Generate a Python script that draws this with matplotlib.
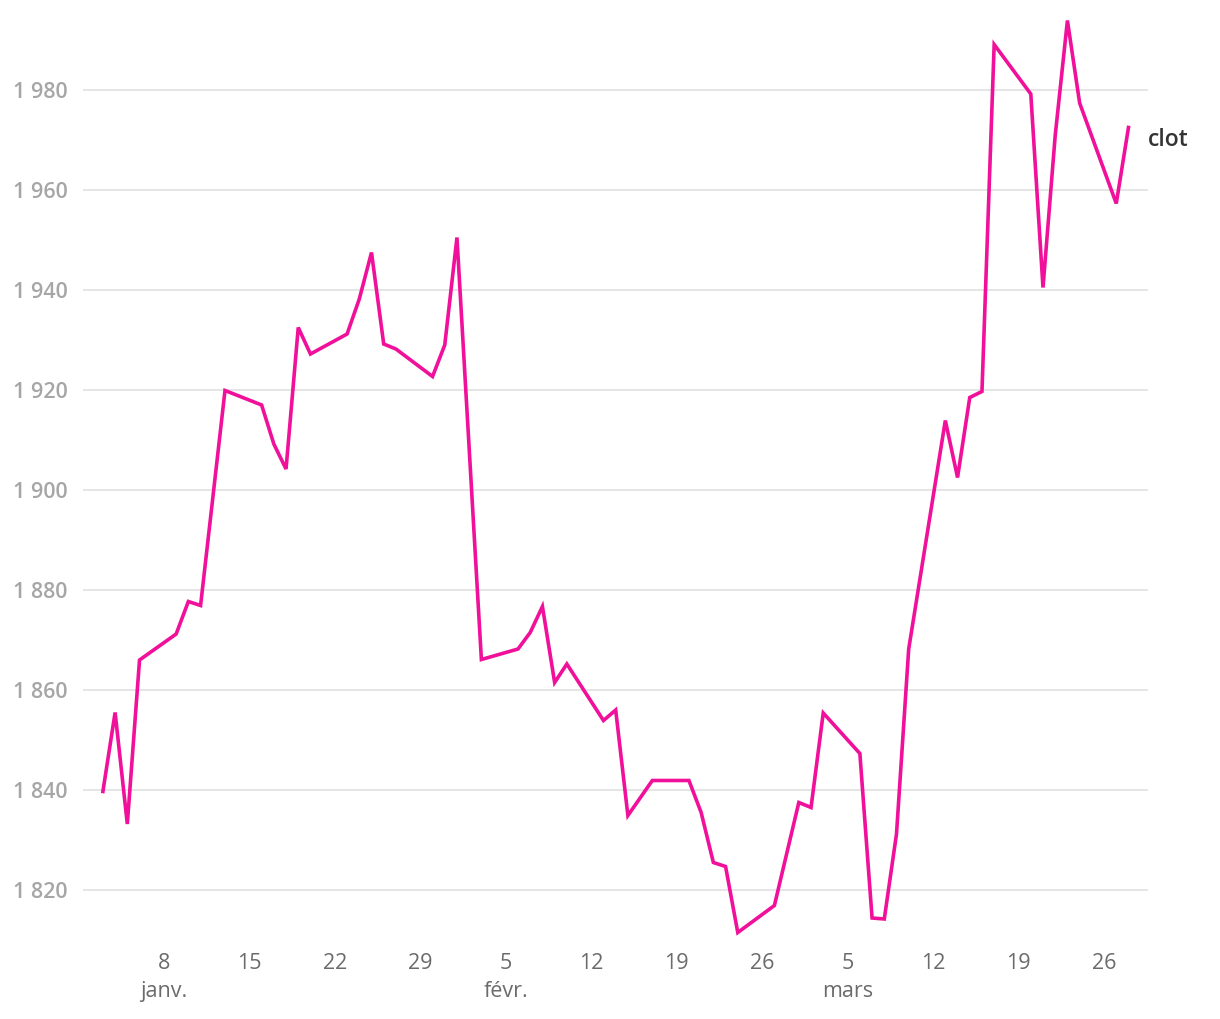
import matplotlib
matplotlib.use("Agg")
import matplotlib.pyplot as plt
import matplotlib.dates as mdates
import numpy as np
import pandas as pd

# --- data -------------------------------------------------------------
dates = [
    "2017-01-03", "2017-01-04", "2017-01-05", "2017-01-06",
    "2017-01-09", "2017-01-10", "2017-01-11", "2017-01-13",
    "2017-01-16", "2017-01-17", "2017-01-18", "2017-01-19", "2017-01-20",
    "2017-01-23", "2017-01-24", "2017-01-25", "2017-01-26", "2017-01-27",
    "2017-01-30", "2017-01-31", "2017-02-01", "2017-02-03",
    "2017-02-06", "2017-02-07", "2017-02-08", "2017-02-09", "2017-02-10",
    "2017-02-13", "2017-02-14", "2017-02-15", "2017-02-17",
    "2017-02-20", "2017-02-21", "2017-02-22", "2017-02-23", "2017-02-24",
    "2017-02-27", "2017-03-01", "2017-03-02", "2017-03-03",
    "2017-03-06", "2017-03-07", "2017-03-08", "2017-03-09", "2017-03-10",
    "2017-03-13", "2017-03-14", "2017-03-15", "2017-03-16", "2017-03-17",
    "2017-03-20", "2017-03-21", "2017-03-22", "2017-03-23", "2017-03-24",
    "2017-03-27", "2017-03-28",
]
clot = [
    1839.6, 1855.4, 1833.1, 1865.9,
    1871.1, 1877.6, 1876.8, 1919.8,
    1916.9, 1909.1, 1904.1, 1932.4, 1927.1,
    1931.1, 1938.1, 1947.4, 1929.1, 1928.1,
    1922.6, 1928.9, 1950.4, 1866.0,
    1868.1, 1871.4, 1876.6, 1861.4, 1865.1,
    1853.8, 1855.9, 1834.8, 1841.8,
    1841.8, 1835.4, 1825.4, 1824.6, 1811.4,
    1816.8, 1837.4, 1836.4, 1855.3,
    1847.2, 1814.3, 1814.1, 1831.1, 1868.1,
    1913.8, 1902.4, 1918.4, 1919.6, 1989.0,
    1979.1, 1940.4, 1970.8, 1993.8, 1977.3,
    1957.2, 1972.4,
]
series_name = "clot"
y_ticks = [1820, 1840, 1860, 1880, 1900, 1920, 1940, 1960, 1980]
x_tick_dates = ["2017-01-08", "2017-01-15", "2017-01-22", "2017-01-29",
                "2017-02-05", "2017-02-12", "2017-02-19", "2017-02-26",
                "2017-03-05", "2017-03-12", "2017-03-19", "2017-03-26"]
month_names = {1: "janv.", 2: "févr.", 3: "mars"}

# --- style -------------------------------------------------------------
plt.rcParams['font.family'] = ['Open Sans', 'DejaVu Sans']
LINE = "#f0109a"
GRID = "#e3e3e3"

x = pd.to_datetime(dates)
xt = pd.to_datetime(x_tick_dates)

fig = plt.figure(figsize=(12.2, 10.2), dpi=100)
ax = fig.add_axes([83 / 1220, 79.5 / 1020, (1148 - 83) / 1220, (940.5 - 15.5) / 1020])

ax.plot(x, clot, color=LINE, lw=2.6, solid_joinstyle="miter", zorder=3)

# axes limits
x0 = mdates.date2num(pd.Timestamp("2017-01-08"))
ax.set_xlim(x0 - 6.63, x0 + 80.6)
ax.set_ylim(1810, 1995)

# grid
ax.set_yticks(y_ticks)
ax.set_yticklabels([f"{v // 1000} {v % 1000:03d}" for v in y_ticks],
                   fontweight="semibold")
ax.yaxis.grid(True, color=GRID, lw=1.3)
ax.xaxis.grid(False)
ax.set_axisbelow(True)

labels = []
prev_month = None
for d in xt:
    if d.month != prev_month:
        labels.append(f"{d.day}\n{month_names[d.month]}")
    else:
        labels.append(f"{d.day}")
    prev_month = d.month
ax.set_xticks(xt)
ax.set_xticklabels(labels, linespacing=1.45, va="top")

ax.tick_params(axis="y", length=0, pad=11, labelsize=15.5, labelcolor="#a6a6a6")
ax.tick_params(axis="x", length=0, pad=9, labelsize=15.5, labelcolor="#6b6b6b")

for s in ax.spines.values():
    s.set_visible(False)

ax.annotate(series_name, xy=(x[-1], clot[-1]), xytext=(14, -8),
            textcoords="offset points", ha="left", va="center",
            fontsize=16.5, fontweight="semibold", color="#333333")

fig.savefig("out.png", dpi=100)
